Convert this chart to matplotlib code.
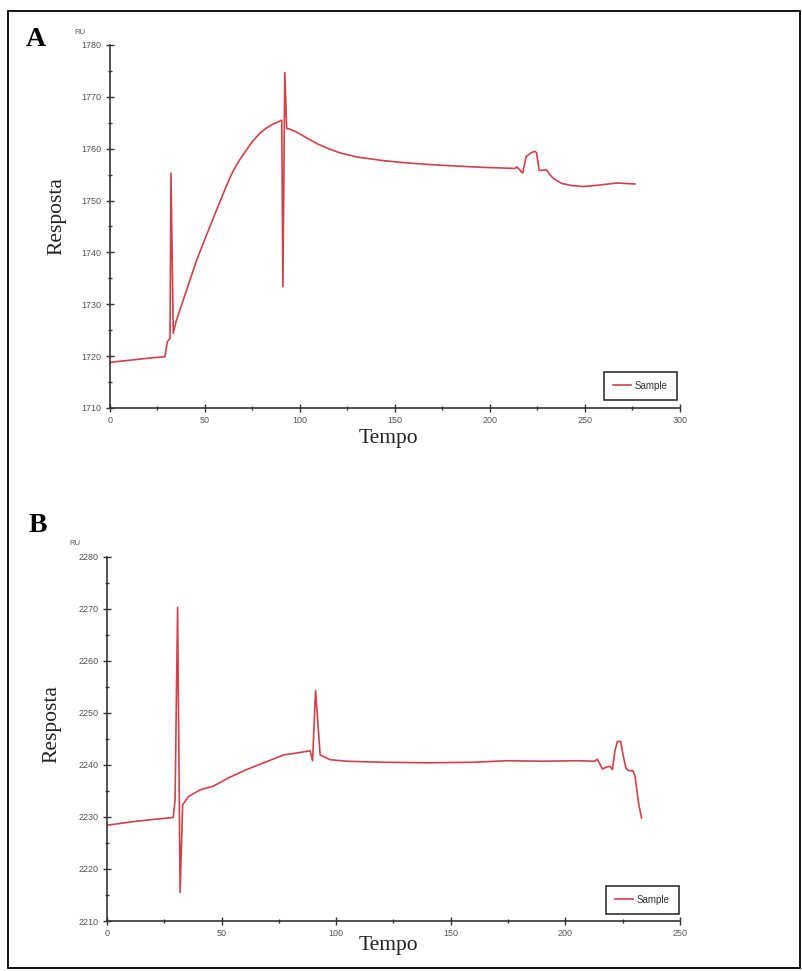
import matplotlib
matplotlib.use("Agg")
import matplotlib.pyplot as plt
from matplotlib.patches import Rectangle
from matplotlib.ticker import MultipleLocator

# ---------------- data ----------------
tA = [0, 10, 20, 28.9, 30.2, 31.6, 32.1, 33.3, 34.7, 40, 45.6, 50, 56.1, 61,
      64, 66.7, 69, 71.9, 75, 78.9, 82, 85, 88, 90.4, 91.0, 92.0, 93.0, 94.4,
      98.2, 103, 108.8, 115, 121, 130, 143.9, 155, 170.2, 185, 196.5, 205,
      213.2, 214.0, 215.5, 217.2, 219, 221.5, 223.7, 224.5, 225.9, 229.8,
      231.5, 233.3, 237.7, 243, 249.1, 258, 266.7, 271, 276.3]
rA = [1718.8, 1719.2, 1719.6, 1719.9, 1722.8, 1723.4, 1755.3, 1724.4, 1726.6,
      1732.4, 1738.5, 1742.6, 1748.2, 1752.6, 1755.1, 1756.9, 1758.3, 1759.8,
      1761.4, 1763.0, 1763.9, 1764.6, 1765.1, 1765.5, 1733.4, 1774.7, 1763.9,
      1763.8, 1763.2, 1762.2, 1761.0, 1760.0, 1759.2, 1758.4, 1757.7, 1757.3,
      1756.9, 1756.6, 1756.4, 1756.3, 1756.2, 1756.5, 1756.0, 1755.3, 1758.5,
      1759.2, 1759.5, 1759.2, 1755.8, 1755.9, 1755.0, 1754.3, 1753.3, 1752.9,
      1752.7, 1753.0, 1753.4, 1753.3, 1753.2]

tB = [0, 11.5, 20, 28.9, 29.7, 30.8, 31.9, 33.0, 35.5, 40.6, 46.4, 53, 60.9,
      69, 76.9, 83, 88.6, 89.7, 91.0, 93.0, 97.3, 104.6, 120.5, 140, 160,
      174.4, 190, 205, 212.9, 213.9, 216.2, 218.0, 219.5, 220.5, 221.6, 222.7,
      224.1, 225.3, 226.4, 227.5, 229.4, 230.4, 231.9, 233.2]
rB = [2228.4, 2229.1, 2229.5, 2229.9, 2233.3, 2270.2, 2215.5, 2232.3, 2233.9,
      2235.2, 2235.9, 2237.5, 2239.1, 2240.5, 2241.9, 2242.3, 2242.7, 2240.8,
      2254.3, 2241.9, 2241.0, 2240.7, 2240.5, 2240.4, 2240.5, 2240.8, 2240.7,
      2240.8, 2240.7, 2241.1, 2239.2, 2239.6, 2239.7, 2239.1, 2242.6, 2244.5,
      2244.5, 2241.6, 2239.4, 2238.9, 2238.9, 2237.8, 2232.7, 2229.8]

series_label = "Sample"
panel_labels = ["A", "B"]
xlabel = "Tempo"
ylabel = "Resposta"
unit = "RU"

# ---------------- figure ----------------
W, H = 803, 971
fig = plt.figure(figsize=(W / 100, H / 100), dpi=100)

# outer frame
fig.patches.append(Rectangle((8 / W, 1 - 968 / H), (800 - 8) / W, (968 - 11) / H,
                             transform=fig.transFigure, fill=False,
                             edgecolor="black", lw=1.3))

line_color = "#d2404a"
tick_color = "#555555"


def px_axes(l, r, t, b):
    return [l / W, 1 - b / H, (r - l) / W, (b - t) / H]


def style(ax, xmax, xmaj, xmin, ylo, yhi):
    ax.set_xlim(0, xmax)
    ax.set_ylim(ylo, yhi)
    for s in ("top", "right"):
        ax.spines[s].set_visible(False)
    for s in ("left", "bottom"):
        ax.spines[s].set_color("#333333")
        ax.spines[s].set_linewidth(1.2)
    ax.xaxis.set_major_locator(MultipleLocator(xmaj))
    ax.xaxis.set_minor_locator(MultipleLocator(xmin))
    ax.yaxis.set_major_locator(MultipleLocator(10))
    ax.yaxis.set_minor_locator(MultipleLocator(5))
    ax.tick_params(which="major", direction="inout", length=6, width=1.0,
                   color="#333333", labelsize=6.5, labelcolor=tick_color, pad=3)
    ax.tick_params(which="minor", direction="inout", length=3, width=1.0,
                   color="#333333")
    for lab in ax.get_xticklabels() + ax.get_yticklabels():
        lab.set_fontfamily("Liberation Sans")


# Panel A
axA = fig.add_axes(px_axes(110, 680, 45, 408))
axA.plot(tA, rA, color=line_color, lw=1.2, label=series_label)
style(axA, 300, 50, 25, 1710, 1780)
legA = axA.legend(loc="lower right", bbox_to_anchor=(0.995, 0.022),
                  borderaxespad=0, fancybox=False, framealpha=1,
                  edgecolor="#333333", handlelength=1.85, handletextpad=0.4,
                  borderpad=0.95, prop={"family": "Liberation Sans", "size": 7})
legA.get_frame().set_linewidth(1.2)
for t in legA.get_texts():
    t.set_color("#333333")

# Panel B
axB = fig.add_axes(px_axes(107, 680, 556.7, 921))
axB.plot(tB, rB, color=line_color, lw=1.2, label=series_label)
style(axB, 250, 50, 25, 2210, 2280)
legB = axB.legend(loc="lower right", bbox_to_anchor=(0.998, 0.019),
                  borderaxespad=0, fancybox=False, framealpha=1,
                  edgecolor="#333333", handlelength=1.85, handletextpad=0.4,
                  borderpad=0.95, prop={"family": "Liberation Sans", "size": 7})
legB.get_frame().set_linewidth(1.2)
for t in legB.get_texts():
    t.set_color("#333333")

# unit labels
fig.text(80 / W, 1 - 32 / H, unit, fontsize=5.5, color=tick_color,
         family="Liberation Sans", ha="center", va="center")
fig.text(75 / W, 1 - 543 / H, unit, fontsize=5.5, color=tick_color,
         family="Liberation Sans", ha="center", va="center")

# panel letters
fig.text(36 / W, 1 - 39 / H, panel_labels[0], fontsize=20, fontweight="bold",
         family="Liberation Serif", ha="center", va="center")
fig.text(38 / W, 1 - 526 / H, panel_labels[1], fontsize=20, fontweight="bold",
         family="Liberation Serif", ha="center", va="center")

# axis titles
fig.text(57 / W, 1 - 216 / H, ylabel, fontsize=15.5, family="Liberation Serif",
         rotation=90, ha="center", va="center", color="#222222")
fig.text(52 / W, 1 - 724 / H, ylabel, fontsize=15.5, family="Liberation Serif",
         rotation=90, ha="center", va="center", color="#222222")
fig.text(388 / W, 1 - 438 / H, xlabel, fontsize=15.5, family="Liberation Serif",
         ha="center", va="center", color="#222222")
fig.text(388 / W, 1 - 945 / H, xlabel, fontsize=15.5, family="Liberation Serif",
         ha="center", va="center", color="#222222")

fig.savefig("out.png", dpi=100)
